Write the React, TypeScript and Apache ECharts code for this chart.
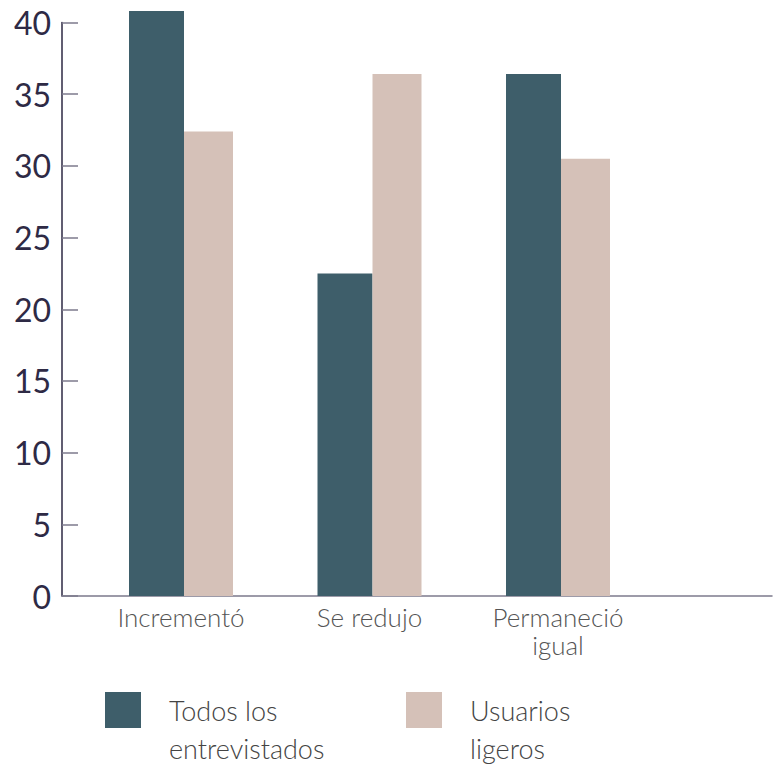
import React, { useEffect, useRef } from "react";
import * as echarts from "echarts";

const categories = ["Incrementó", "Se redujo", "Permaneció\nigual"];
const seriesNames = ["Todos los\nentrevistados", "Usuarios\nligeros"];
const todosValues = [40.8, 22.5, 36.4];
const ligerosValues = [32.4, 36.4, 30.5];
const yTicks = { min: 0, max: 40, interval: 5 };

const DARK = "#3e5e6a";
const LIGHT = "#d5c1b8";
const FONT = "Lato, 'Open Sans', sans-serif";

export default function App() {
  const ref = useRef<HTMLDivElement>(null);
  useEffect(() => {
    if (!ref.current) return;
    const chart = echarts.init(ref.current, undefined, { renderer: "svg" });
    const top = 22.5;
    const bottom = 169;
    const legendCommon = {
      top: 653,
      padding: 0,
      orient: "horizontal",
      itemWidth: 36,
      itemHeight: 36,
      icon: "rect",
      selectedMode: false,
      formatter: (name: string) => "\n" + name,
      textStyle: {
        fontFamily: FONT,
        fontWeight: 300,
        fontSize: 27,
        lineHeight: 38,
        color: "#444",
        padding: [0, 0, 0, 23],
      },
    };
    chart.setOption({
      animation: false,
      backgroundColor: "#ffffff",
      legend: [
        { ...legendCommon, left: 105, data: [seriesNames[0]] },
        { ...legendCommon, left: 406, data: [seriesNames[1]] },
      ],
      grid: [
        { left: 62, right: 8, top, bottom, containLabel: false },
        { left: 86.75, width: 565.5, top, bottom, containLabel: false },
      ],
      xAxis: [
        {
          gridIndex: 0,
          type: "value",
          min: 0,
          max: 1,
          axisLine: { show: true, lineStyle: { color: "#7c7a8c", width: 1.5 } },
          axisTick: { show: false },
          axisLabel: { show: false },
          splitLine: { show: false },
        },
        {
          gridIndex: 1,
          type: "category",
          data: categories,
          axisLine: { show: false },
          axisTick: { show: false },
          axisLabel: {
            fontFamily: FONT,
            fontWeight: 300,
            fontSize: 26,
            lineHeight: 28,
            color: "#555",
            margin: 7,
            interval: 0,
          },
        },
      ],
      yAxis: [
        {
          gridIndex: 0,
          type: "value",
          ...yTicks,
          axisLine: { show: true, lineStyle: { color: "#2c2843", width: 1.5 } },
          axisTick: {
            show: true,
            inside: true,
            length: 16,
            lineStyle: { color: "#7c7a8c", width: 1.5 },
          },
          axisLabel: {
            fontFamily: FONT,
            fontSize: 32,
            color: "#2e2a45",
            margin: 11,
          },
          splitLine: { show: false },
        },
        {
          gridIndex: 1,
          type: "value",
          ...yTicks,
          show: false,
          splitLine: { show: false },
        },
      ],
      series: [
        {
          name: seriesNames[0],
          type: "bar",
          xAxisIndex: 1,
          yAxisIndex: 1,
          data: todosValues,
          barWidth: 55,
          barGap: 0,
          clip: false,
          itemStyle: { color: DARK },
        },
        {
          name: seriesNames[1],
          type: "bar",
          xAxisIndex: 1,
          yAxisIndex: 1,
          data: ligerosValues,
          barWidth: 49,
          barGap: 0,
          clip: false,
          itemStyle: { color: LIGHT },
        },
      ],
    });
    return () => chart.dispose();
  }, []);
  return <div ref={ref} style={{ width: 780, height: 765, position: "absolute", left: 0, top: 0 }} />;
}
